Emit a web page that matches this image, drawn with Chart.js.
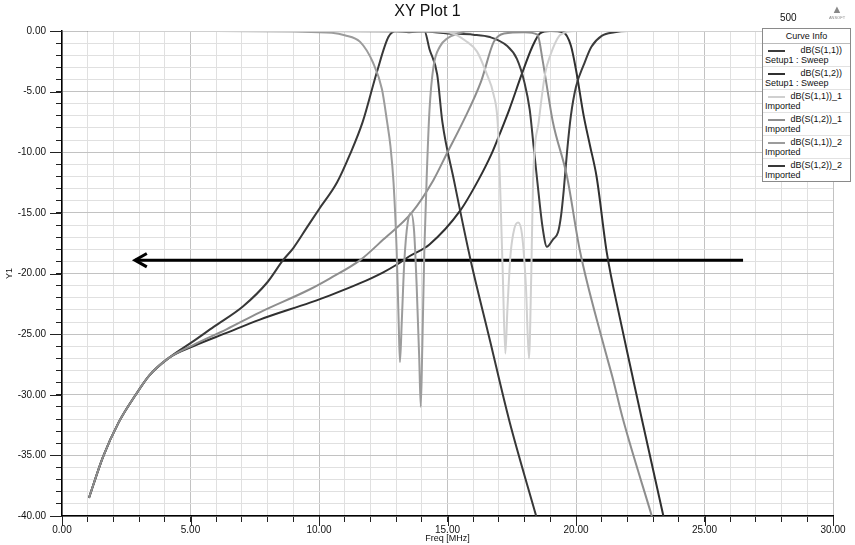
<!DOCTYPE html>
<html>
<head>
<meta charset="utf-8">
<title>XY Plot 1</title>
<script src="https://cdn.jsdelivr.net/npm/chart.js@4.4.0/dist/chart.umd.min.js"></script>
<style>
  html, body { margin: 0; padding: 0; background: #fff; }
  #wrap { position: relative; width: 855px; height: 545px; font-family: "Liberation Sans", Arial, sans-serif; color: #111; }
  #plot { position: absolute; left: 0; top: 0; }
  #title { position: absolute; left: 0; top: 2px; width: 855px; text-align: center; font-size: 16px; }
  #count { position: absolute; left: 780px; top: 12px; font-size: 10px; }
  #logo { position: absolute; left: 824px; top: 4px; width: 26px; text-align: center; color: #888; font-size: 11px; line-height: 11px; }
  #logo small { display: block; font-size: 4px; line-height: 5px; }
  #legend { position: absolute; left: 762px; top: 28px; width: 87px; background: #fff; border: 1px solid #8a8a8a; font-size: 9px; }
  #legend .hdr { height: 14px; line-height: 14px; text-align: center; border-bottom: 1px solid #bbb; }
  #legend .row { position: relative; height: 22px; border-bottom: 1px solid #e2e2e2; }
  #legend .row:last-child { border-bottom: none; }
  #legend .sw { position: absolute; left: 5px; top: 6px; width: 17px; height: 2px; }
  #legend .nm { position: absolute; right: 8px; top: 1px; }
  #legend .sub { position: absolute; left: 2px; top: 11px; }
</style>
</head>
<body>
<div id="wrap">
  <canvas id="plot" width="855" height="545"></canvas>
  <div id="title">XY Plot 1</div>
  <div id="count">500</div>
  <div id="logo">&#9650;<small>ANSOFT</small></div>
  <div id="legend"></div>
</div>
<script>
// ---------------------------
// Data
// ---------------------------
const xTickValues = [0, 5, 10, 15, 20, 25, 30];
const yTickValues = [0, -5, -10, -15, -20, -25, -30, -35, -40];

// Setup1 : Sweep (filter around 19-20 MHz)
const setupS11Freq = [1, 10, 14, 15, 16, 16.65, 17.3, 17.7, 18.0, 18.2, 18.35, 18.5, 18.7, 18.87, 19.1, 19.3, 19.42, 19.52, 19.65, 19.8, 20.0, 20.3, 20.6, 21.0, 21.5, 22, 25, 30];
const setupS11Db   = [0, 0, -0.05, -0.2, -0.3, -0.5, -1.2, -2.3, -4.3, -6.5, -9.5, -12.5, -16.2, -17.8, -17.2, -16.6, -15.2, -13.2, -10, -7.0, -4.6, -2.8, -1.3, -0.4, -0.1, 0, 0, 0];
const setupS12Freq = [1.05, 1.6, 2.2, 2.9, 3.4, 4.2, 5.1, 6.4, 7.7, 9.65, 10.43, 11.6, 12.5, 13.0, 13.5, 14.3, 15.5, 16.2, 16.7, 17.05, 17.4, 17.9, 18.3, 18.6, 19.0, 19.5, 19.8, 20.0, 20.3, 20.55, 20.8, 21.2, 21.7, 22.2, 22.55, 23.4];
const setupS12Db   = [-38.5, -35.1, -32.3, -29.9, -28.4, -26.9, -26.0, -24.9, -23.8, -22.4, -21.8, -20.8, -19.9, -19.3, -18.6, -17.6, -14.8, -12.3, -10.2, -8.4, -6.5, -3.5, -1.3, -0.2, 0, -0.1, -1.2, -3.2, -7.0, -9.5, -12.0, -18.3, -23.6, -28.5, -31.9, -40];

// Imported _1 (filter around 17-18 MHz)
const imp1S11Freq = [1, 10, 14.5, 15.2, 15.7, 16.15, 16.5, 16.8, 16.95, 17.04, 17.15, 17.25, 17.33, 17.45, 17.6, 17.75, 17.9, 18.05, 18.17, 18.26, 18.33, 18.55, 18.8, 19.0, 19.4, 20, 25, 30];
const imp1S11Db   = [0, 0, -0.05, -0.2, -0.8, -1.7, -3.4, -5.3, -7.5, -12.3, -20, -26.6, -23, -18.5, -16.3, -15.8, -16.8, -21, -27, -20, -12.3, -7.5, -3.5, -2.0, -0.3, 0, 0, 0];
const imp1S12Freq = [1.05, 1.6, 2.2, 2.9, 3.4, 4.2, 5.1, 6.4, 7.7, 9.65, 10.43, 11.6, 12.5, 13.6, 14.45, 15.0, 15.6, 16.3, 16.8, 17.2, 18.0, 18.5, 18.7, 18.9, 19.1, 19.65, 20.15, 21.05, 21.45, 21.8, 22.95];
const imp1S12Db   = [-38.5, -35.1, -32.3, -29.9, -28.4, -26.9, -25.9, -24.6, -23.2, -21.3, -20.4, -18.9, -17.2, -15.0, -12.3, -10.0, -7.5, -4.2, -0.9, -0.2, -0.1, -0.3, -2.4, -5.0, -7.5, -12.0, -18.1, -25.7, -28.8, -31.8, -40];

// Imported _2 (filter around 13-14 MHz)
const imp2S11Freq = [1, 6, 9, 10.5, 11, 11.6, 12.1, 12.45, 12.65, 12.78, 12.9, 13.02, 13.1, 13.15, 13.22, 13.32, 13.45, 13.58, 13.7, 13.8, 13.9, 13.96, 14.02, 14.1, 14.2, 14.3, 14.45, 14.7, 15.0, 15.4, 16, 20, 25, 30];
const imp2S11Db   = [0, 0, -0.05, -0.15, -0.35, -0.9, -2.6, -4.8, -7.5, -9.5, -12.5, -18, -24, -27.3, -24, -19, -15.8, -15.0, -16.5, -21, -27, -31, -26, -18, -11.5, -6.5, -3.0, -1.3, -0.6, -0.2, 0, 0, 0, 0];
const imp2S12Freq = [1.05, 1.6, 2.2, 2.9, 3.4, 4.2, 5.1, 5.9, 7.05, 8.0, 8.6, 9.0, 9.5, 10.0, 10.7, 11.2, 11.7, 12.25, 12.7, 13.0, 13.5, 14.1, 14.3, 14.6, 14.8, 15.25, 15.9, 16.65, 17.4, 18.45];
const imp2S12Db   = [-38.5, -35.1, -32.3, -29.9, -28.4, -26.9, -25.6, -24.4, -22.7, -20.7, -18.9, -17.9, -16.3, -14.7, -12.5, -10.2, -7.5, -3.4, -0.5, 0, -0.1, 0, -1.5, -3.6, -7.5, -12.3, -18.9, -25.5, -32.1, -40];

// Arrow drawn over the plot
const arrowFreq = [26.5, 2.84];
const arrowDb   = [-18.9, -18.9];
const arrowHeadFreq = [3.3, 2.84, 3.3];
const arrowHeadDb   = [-18.35, -18.9, -19.45];

// ---------------------------
// Helpers
// ---------------------------
function toPoints(xs, ys) {
    return xs.map((x, i) => ({ x: x, y: ys[i] }));
}

function curve(label, xs, ys, color) {
    return {
        label: label,
        data: toPoints(xs, ys),
        borderColor: color,
        borderWidth: 2,
        pointRadius: 0,
        fill: false,
        cubicInterpolationMode: "monotone"
    };
}

const curves = [
    { name: "dB(S(1,1))",   sub: "Setup1 : Sweep", color: "#3c3c3c", xs: setupS11Freq, ys: setupS11Db },
    { name: "dB(S(1,2))",   sub: "Setup1 : Sweep", color: "#303030", xs: setupS12Freq, ys: setupS12Db },
    { name: "dB(S(1,1))_1", sub: "Imported",       color: "#d0d0d0", xs: imp1S11Freq,  ys: imp1S11Db },
    { name: "dB(S(1,2))_1", sub: "Imported",       color: "#8e8e8e", xs: imp1S12Freq,  ys: imp1S12Db },
    { name: "dB(S(1,1))_2", sub: "Imported",       color: "#9c9c9c", xs: imp2S11Freq,  ys: imp2S11Db },
    { name: "dB(S(1,2))_2", sub: "Imported",       color: "#383838", xs: imp2S12Freq,  ys: imp2S12Db }
];

// light curves first so the dark ones sit on top
const drawOrder = [2, 4, 3, 0, 5, 1];
const datasets = drawOrder.map(i => curve(curves[i].name, curves[i].xs, curves[i].ys, curves[i].color));

datasets.push({
    label: "arrow",
    data: toPoints(arrowFreq, arrowDb),
    borderColor: "#000", borderWidth: 3, pointRadius: 0, fill: false, tension: 0
});
datasets.push({
    label: "arrowHead",
    data: toPoints(arrowHeadFreq, arrowHeadDb),
    borderColor: "#000", borderWidth: 3, pointRadius: 0, fill: false, tension: 0,
    borderJoinStyle: "miter"
});

// ---------------------------
// Legend box (Curve Info)
// ---------------------------
const legendEl = document.getElementById("legend");
legendEl.innerHTML = '<div class="hdr">Curve Info</div>' + curves.map(c =>
    `<div class="row"><span class="sw" style="background:${c.color}"></span>` +
    `<span class="nm">${c.name}</span><span class="sub">${c.sub}</span></div>`
).join("");

// ---------------------------
// Longer tick marks at labelled values
// ---------------------------
const majorTicks = {
    id: "majorTicks",
    afterDraw(chart) {
        const { ctx, chartArea } = chart;
        const x = chart.scales.x, y = chart.scales.y;
        ctx.save();
        ctx.strokeStyle = "#222";
        ctx.lineWidth = 1;
        ctx.beginPath();
        xTickValues.forEach(v => {
            const px = Math.round(x.getPixelForValue(v)) + 0.5;
            ctx.moveTo(px, chartArea.bottom);
            ctx.lineTo(px, chartArea.bottom + 10);
        });
        yTickValues.forEach(v => {
            const py = Math.round(y.getPixelForValue(v)) + 0.5;
            ctx.moveTo(chartArea.left - 12, py);
            ctx.lineTo(chartArea.left, py);
        });
        ctx.stroke();
        ctx.restore();
    }
};

const isMajor = v => Math.abs(Math.round(v) % 5) === 0;
const tickFont = { family: "'Liberation Sans', Arial, sans-serif", size: 10 };

new Chart(document.getElementById("plot").getContext("2d"), {
    type: "line",
    data: { datasets: datasets },
    options: {
        responsive: false,
        animation: false,
        parsing: true,
        layout: { padding: { top: 31, right: 22, bottom: 0, left: 0 } },
        plugins: {
            legend: { display: false },
            tooltip: { enabled: false },
            title: { display: false }
        },
        scales: {
            x: {
                type: "linear",
                min: 0,
                max: 30,
                afterFit: s => { s.height = 29; },
                border: { display: true, color: "#000", width: 1.5 },
                grid: {
                    color: c => isMajor(c.tick.value) ? "#c2c2c2" : "#e0e0e0",
                    tickColor: "#222",
                    tickLength: 6
                },
                ticks: {
                    stepSize: 1,
                    autoSkip: false,
                    maxRotation: 0,
                    padding: 2,
                    color: "#111",
                    font: tickFont,
                    callback: v => xTickValues.includes(v) ? v.toFixed(2) : ""
                },
                title: {
                    display: true,
                    text: "Freq [MHz]",
                    color: "#111",
                    font: { family: "'Liberation Sans', Arial, sans-serif", size: 9 },
                    padding: { top: 0, bottom: 1 }
                }
            },
            y: {
                type: "linear",
                min: -40,
                max: 0,
                afterFit: s => { s.width = 62; },
                border: { display: true, color: "#000", width: 1.5 },
                grid: {
                    color: c => isMajor(c.tick.value) ? "#c2c2c2" : "#e0e0e0",
                    tickColor: "#222",
                    tickLength: 6
                },
                ticks: {
                    stepSize: 1,
                    autoSkip: false,
                    padding: 10,
                    color: "#111",
                    font: tickFont,
                    callback: v => yTickValues.includes(v) ? v.toFixed(2) : ""
                },
                title: {
                    display: true,
                    text: "Y1",
                    color: "#111",
                    font: { family: "'Liberation Sans', Arial, sans-serif", size: 9 },
                    padding: { top: 4, bottom: 0 }
                }
            }
        }
    },
    plugins: [majorTicks]
});
</script>
</body>
</html>
